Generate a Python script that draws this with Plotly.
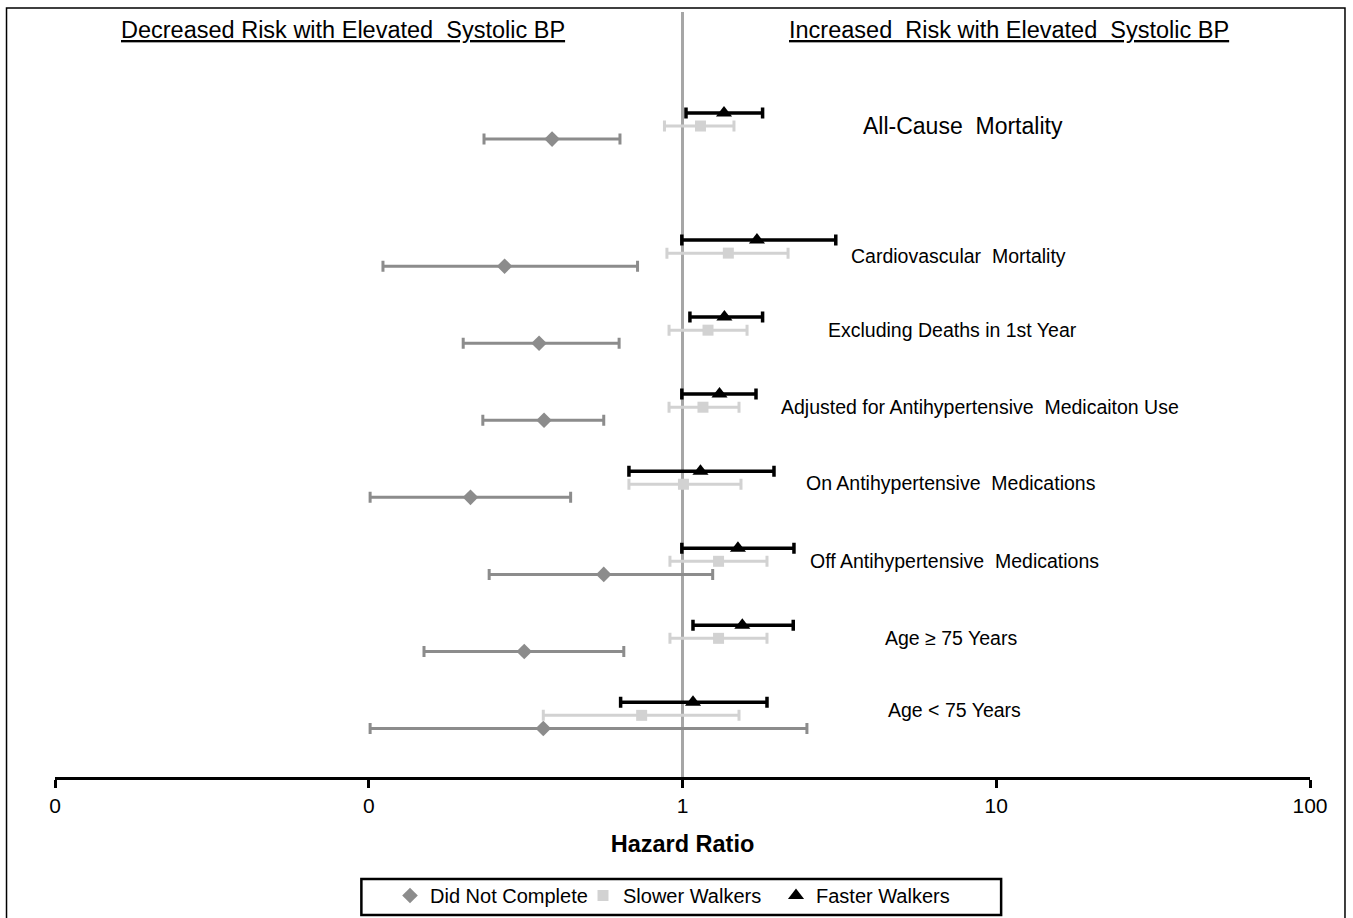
import plotly.graph_objects as go

# ---------------- data (hazard ratios) ----------------
outcomes = [
    "All-Cause  Mortality",
    "Cardiovascular  Mortality",
    "Excluding Deaths in 1st Year",
    "Adjusted for Antihypertensive  Medicaiton Use",
    "On Antihypertensive  Medications",
    "Off Antihypertensive  Medications",
    "Age \u2265 75 Years",
    "Age < 75 Years",
]

dnc_hr = [0.384, 0.271, 0.349, 0.362, 0.211, 0.561, 0.313, 0.360]
dnc_lo = [0.233, 0.111, 0.200, 0.231, 0.101, 0.242, 0.150, 0.101]
dnc_hi = [0.632, 0.719, 0.628, 0.561, 0.440, 1.248, 0.650, 2.492]

slow_hr = [1.141, 1.400, 1.206, 1.162, 1.007, 1.303, 1.303, 0.741]
slow_lo = [0.876, 0.892, 0.906, 0.906, 0.675, 0.912, 0.912, 0.360]
slow_hi = [1.459, 2.170, 1.606, 1.514, 1.536, 1.859, 1.859, 1.514]

fast_hr = [1.356, 1.727, 1.360, 1.312, 1.141, 1.502, 1.551, 1.080]
fast_lo = [1.026, 0.995, 1.056, 0.995, 0.675, 0.995, 1.080, 0.635]
fast_hi = [1.800, 3.080, 1.800, 1.715, 1.957, 2.266, 2.254, 1.859]

tick_vals = [0.01, 0.1, 1, 10, 100]
tick_text = ["0", "0", "1", "10", "100"]

# ---------------- layout helpers ----------------
row_pos = [8.65, 7, 6, 5, 4, 3, 2, 1]
off = 0.17
FONT = "Liberation Sans, Arial, sans-serif"

FW, FH = 1353, 918
W0, W = 54.5, 1255.5      # plot area left / width in pixels
T0, H = 12, 765           # plot area top / height in pixels


def px_x(px):
    return (px - W0) / W


def px_y(py):
    return (T0 + H - py) / H


def errs(c, lo, hi):
    plus = [h - v for v, h in zip(c, hi)]
    minus = [v - l for v, l in zip(c, lo)]
    return plus, minus


fig = go.Figure()

series = [
    ("Did Not Complete", dnc_hr, dnc_lo, dnc_hi, -off, "#8c8c8c", "diamond", 12, 3),
    ("Slower Walkers", slow_hr, slow_lo, slow_hi, 0, "#d2d2d2", "square", 11, 3),
    ("Faster Walkers", fast_hr, fast_lo, fast_hi, off, "#000000", "triangle-up", 14, 3.5),
]

for name, c, lo, hi, dy, col, sym, sz, th in series:
    plus, minus = errs(c, lo, hi)
    fig.add_trace(go.Scatter(
        x=c, y=[r + dy for r in row_pos], mode="markers", name=name,
        marker=dict(symbol=sym, size=sz, color=col, line=dict(width=0)),
        error_x=dict(type="data", symmetric=False, array=plus, arrayminus=minus,
                     color=col, thickness=th, width=5.5),
        hoverinfo="skip",
    ))

# reference line at HR = 1
fig.add_shape(type="line", xref="x", yref="paper", x0=1, x1=1, y0=0, y1=1,
              line=dict(color="#a6a6a6", width=3), layer="below")

# outer frame
fig.add_shape(type="rect", xref="paper", yref="paper",
              x0=px_x(6), x1=px_x(1345), y0=px_y(960), y1=px_y(8),
              line=dict(color="black", width=1.5))

# legend frame
fig.add_shape(type="rect", xref="paper", yref="paper",
              x0=px_x(361), x1=px_x(1001), y0=px_y(915), y1=px_y(879),
              line=dict(color="black", width=2.5))

# outcome labels
label_px = [963, 958, 952, 980, 951, 954, 951, 954]
label_dy = [0, -0.04, 0, 0, 0.02, 0, 0, 0.07]
label_sz = [23, 19.5, 19.5, 19.5, 19.5, 19.5, 19.5, 19.5]
for txt, px, r, dy, s in zip(outcomes, label_px, row_pos, label_dy, label_sz):
    fig.add_annotation(x=px_x(px), xref="paper", y=r + dy, yref="y",
                       text=txt, showarrow=False, xanchor="center", yanchor="middle",
                       font=dict(family=FONT, size=s, color="black"))

# headers
for txt, px in [("Decreased Risk with Elevated  Systolic BP", 343),
                ("Increased  Risk with Elevated  Systolic BP", 1009)]:
    fig.add_annotation(x=px_x(px), xref="paper", y=px_y(30), yref="paper",
                       text="<u>" + txt + "</u>", showarrow=False,
                       xanchor="center", yanchor="middle",
                       font=dict(family=FONT, size=23.5, color="black"))

fig.update_layout(
    width=FW, height=FH,
    margin=dict(l=W0, r=FW - W0 - W, t=T0, b=FH - T0 - H, autoexpand=False),
    paper_bgcolor="white", plot_bgcolor="white",
    font=dict(family=FONT, color="black"),
    showlegend=True,
    legend=dict(orientation="h", xref="container", yref="container",
                x=390 / FW, xanchor="left",
                y=(FH - 876) / FH, yanchor="top",
                borderwidth=0, bgcolor="rgba(0,0,0,0)",
                entrywidth=148,
                font=dict(family=FONT, size=20, color="black"),
                itemclick=False, itemdoubleclick=False),
    xaxis=dict(type="log", range=[-2, 2], tickvals=tick_vals, ticktext=tick_text,
               automargin=False,
               showline=True, linecolor="black", linewidth=3,
               ticks="outside", ticklen=8, tickwidth=3, tickcolor="black",
               showgrid=False, zeroline=False,
               tickfont=dict(family=FONT, size=21, color="black"),
               title=dict(text="<b>Hazard Ratio</b>", standoff=20,
                          font=dict(family=FONT, size=23.5, color="black"))),
    yaxis=dict(range=[0.2, 10.13], visible=False, showgrid=False, zeroline=False,
               automargin=False),
)

fig.write_html(
    "out.html",
    config={"displayModeBar": False},
    post_script="document.body.style.margin='0';document.body.style.overflow='hidden';"
                "document.documentElement.style.overflow='hidden';",
)
